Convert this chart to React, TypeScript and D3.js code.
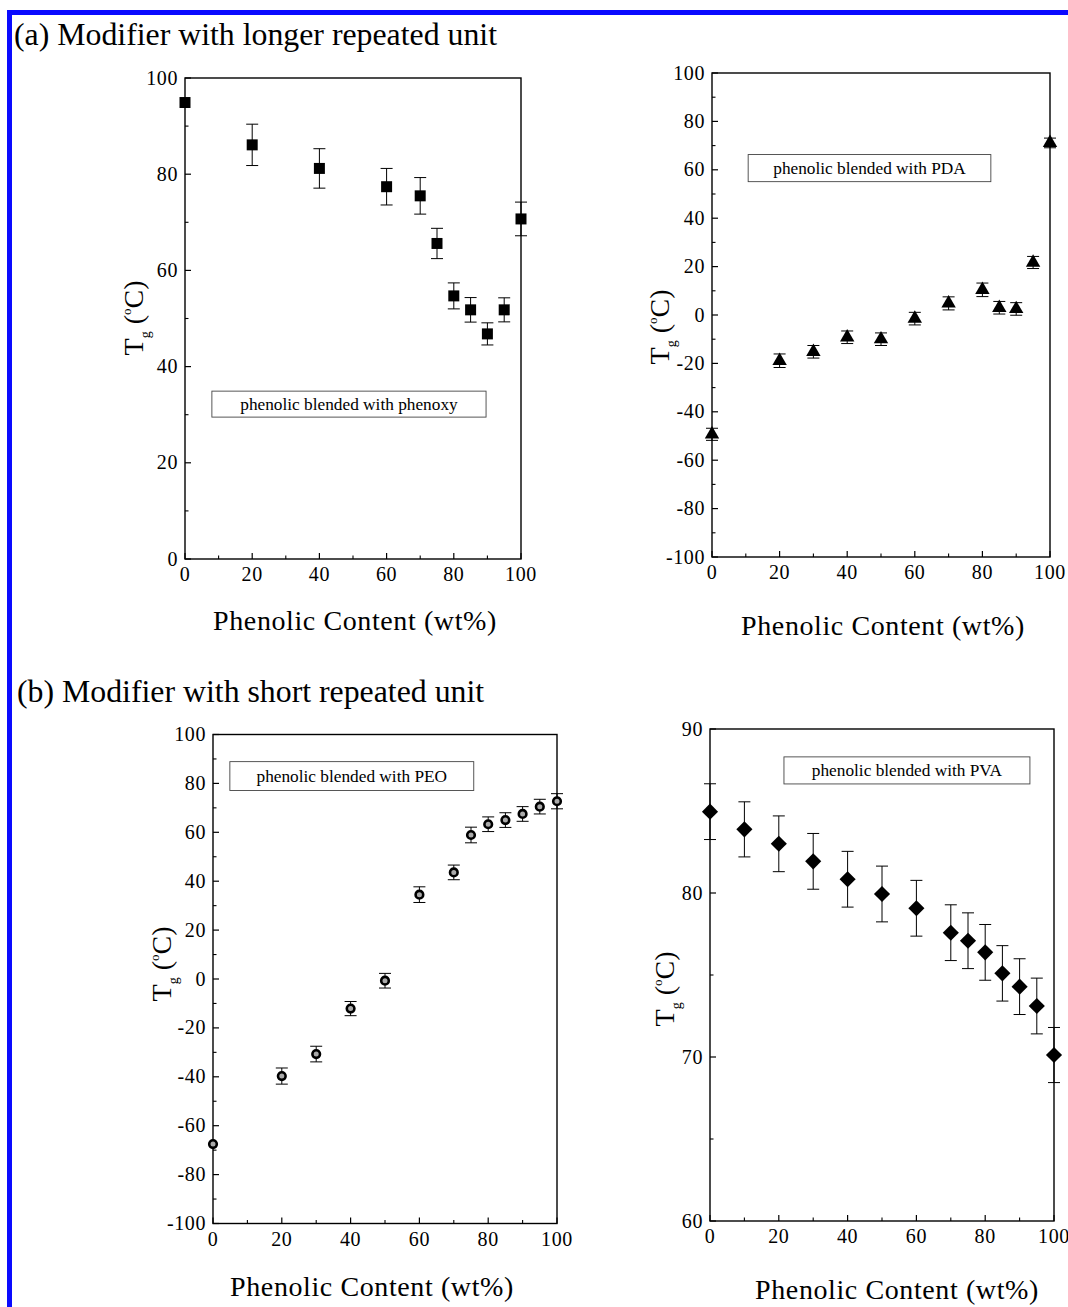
import React from 'react';
import * as d3 from 'd3';

const FONT = '"Liberation Serif", "Times New Roman", Times, serif';

// ---------- data ----------
const phenoxyX = [0, 20, 40, 60, 70, 75, 80, 85, 90, 95, 100];
const phenoxyTg = [94.9, 86.1, 81.2, 77.4, 75.5, 65.6, 54.7, 51.8, 46.8, 51.8, 70.7];
const phenoxyErr = [0, 4.3, 4.1, 3.8, 3.8, 3.15, 2.7, 2.55, 2.3, 2.5, 3.5];

const pdaX = [0, 20, 30, 40, 50, 60, 70, 80, 85, 90, 95, 100];
const pdaTg = [-49.3, -18.9, -15.2, -9.2, -10.0, -1.5, 4.8, 10.4, 3.0, 2.5, 21.7, 71.1];
const pdaErr = [2.5, 2.8, 2.6, 2.6, 2.6, 2.6, 2.7, 2.8, 2.6, 2.6, 2.5, 2.0];

const peoX = [0, 20, 30, 40, 50, 60, 70, 75, 80, 85, 90, 95, 100];
const peoTg = [-67.5, -39.7, -30.7, -12.1, -0.7, 34.5, 43.6, 58.9, 63.3, 65.0, 67.5, 70.5, 72.7];
const peoErr = [0, 3.3, 3.2, 2.9, 3.0, 3.2, 3.0, 3.2, 3.0, 3.0, 3.0, 3.0, 3.1];

const pvaX = [0, 10, 20, 30, 40, 50, 60, 70, 75, 80, 85, 90, 95, 100];
const pvaTg = [84.96, 83.88, 83.0, 81.93, 80.84, 79.94, 79.07, 77.58, 77.09, 76.38, 75.1, 74.29, 73.11, 70.12];
const pvaErr = [1.7, 1.68, 1.7, 1.7, 1.7, 1.7, 1.7, 1.7, 1.7, 1.7, 1.69, 1.7, 1.7, 1.68];

const xTicks = [0, 20, 40, 60, 80, 100];
const yTicksA = [0, 20, 40, 60, 80, 100];
const yTicksB = [-100, -80, -60, -40, -20, 0, 20, 40, 60, 80, 100];
const yTicksPVA = [60, 70, 80, 90];

const labelPhenoxy = 'phenolic blended with phenoxy';
const labelPDA = 'phenolic blended with PDA';
const labelPEO = 'phenolic blended with PEO';
const labelPVA = 'phenolic blended with PVA';
const titleA = '(a) Modifier with longer repeated unit';
const titleB = '(b) Modifier with short repeated unit';
const xTitle = 'Phenolic Content (wt%)';

type Marker = 'square' | 'triangle' | 'circle' | 'diamond';

interface PanelProps {
  frame: { left: number; right: number; top: number; bottom: number };
  yDomain: [number, number];
  yTicks: number[];
  yMinorStep: number;
  xs: number[];
  ys: number[];
  errs: number[];
  marker: Marker;
  label: string;
  box: { x0: number; x1: number; y0: number; y1: number }; // data coords
  yLabelPos: { x: number; y: number };
  xLabelPos: { x: number; y: number };
}

function MarkerShape({ type, x, y }: { type: Marker; x: number; y: number }) {
  if (type === 'square') {
    return <path d={d3.symbol(d3.symbolSquare, 121)() || ''} transform={`translate(${x},${y})`} fill="#000" />;
  }
  if (type === 'triangle') {
    return <path d={d3.symbol(d3.symbolTriangle, 90)() || ''} transform={`translate(${x},${y})`} fill="#000" />;
  }
  if (type === 'diamond') {
    return <path d={d3.symbol(d3.symbolSquare, 130)() || ''} transform={`translate(${x},${y}) rotate(45)`} fill="#000" />;
  }
  return <circle cx={x} cy={y} r={3.8} fill="#aaa" stroke="#000" strokeWidth={2.6} />;
}

function Panel(p: PanelProps) {
  const { frame } = p;
  const x = d3.scaleLinear().domain([0, 100]).range([frame.left, frame.right]);
  const y = d3.scaleLinear().domain(p.yDomain).range([frame.bottom, frame.top]);
  const xMinor = d3.range(10, 100, 20);
  const yMinor = d3.range(p.yDomain[0] + p.yMinorStep, p.yDomain[1], p.yMinorStep).filter(
    (v) => !p.yTicks.some((t) => Math.abs(t - v) < 1e-6)
  );
  const cap = 6;
  return (
    <g>
      <rect
        x={frame.left}
        y={frame.top}
        width={frame.right - frame.left}
        height={frame.bottom - frame.top}
        fill="none"
        stroke="#000"
        strokeWidth={1.4}
      />
      {xTicks.map((t) => (
        <g key={'xt' + t}>
          <line x1={x(t)} x2={x(t)} y1={frame.bottom} y2={frame.bottom - 6} stroke="#000" strokeWidth={1.2} />
          <text x={x(t)} y={frame.bottom + 22} textAnchor="middle" fontSize={20} letterSpacing={0.6} fontFamily={FONT}>
            {t}
          </text>
        </g>
      ))}
      {xMinor.map((t) => (
        <line key={'xm' + t} x1={x(t)} x2={x(t)} y1={frame.bottom} y2={frame.bottom - 3.5} stroke="#000" strokeWidth={1.1} />
      ))}
      {p.yTicks.map((t) => (
        <g key={'yt' + t}>
          <line x1={frame.left} x2={frame.left + 6} y1={y(t)} y2={y(t)} stroke="#000" strokeWidth={1.2} />
          <text x={frame.left - 7} y={y(t) + 6.5} textAnchor="end" fontSize={20} letterSpacing={0.6} fontFamily={FONT}>
            {t}
          </text>
        </g>
      ))}
      {yMinor.map((t) => (
        <line key={'ym' + t} x1={frame.left} x2={frame.left + 3.5} y1={y(t)} y2={y(t)} stroke="#000" strokeWidth={1.1} />
      ))}
      {/* annotation box */}
      <rect
        x={x(p.box.x0)}
        y={y(p.box.y0)}
        width={x(p.box.x1) - x(p.box.x0)}
        height={y(p.box.y1) - y(p.box.y0)}
        fill="#fff"
        stroke="#444"
        strokeWidth={0.9}
      />
      <text
        x={(x(p.box.x0) + x(p.box.x1)) / 2}
        y={(y(p.box.y0) + y(p.box.y1)) / 2 + 5.5}
        textAnchor="middle"
        fontSize={17.3}
        fontFamily={FONT}
      >
        {p.label}
      </text>
      {/* error bars */}
      {p.xs.map((xv, i) => {
        const e = p.errs[i];
        if (!e) return null;
        const cx = x(xv);
        const yt = y(p.ys[i] + e);
        const yb = y(p.ys[i] - e);
        return (
          <g key={'eb' + i} stroke="#000" strokeWidth={1}>
            <line x1={cx} x2={cx} y1={yt} y2={yb} />
            <line x1={cx - cap} x2={cx + cap} y1={yt} y2={yt} />
            <line x1={cx - cap} x2={cx + cap} y1={yb} y2={yb} />
          </g>
        );
      })}
      {p.xs.map((xv, i) => (
        <MarkerShape key={'m' + i} type={p.marker} x={x(xv)} y={y(p.ys[i])} />
      ))}
      {/* y label */}
      <text
        transform={`translate(${p.yLabelPos.x},${p.yLabelPos.y}) rotate(-90)`}
        textAnchor="middle"
        fontFamily={FONT}
        fontSize={28}
      >
        <tspan>T</tspan>
        <tspan fontSize={14} dy={7}>g</tspan>
        <tspan dy={-7}>{'\u00a0('}</tspan>
        <tspan fontSize={13} dy={-12}>o</tspan>
        <tspan dy={12}>C)</tspan>
      </text>
      {/* x label */}
      <text x={p.xLabelPos.x} y={p.xLabelPos.y} textAnchor="middle" fontFamily={FONT} fontSize={28} letterSpacing={0.6}>
        {xTitle}
      </text>
    </g>
  );
}

export default function App() {
  return (
    <svg
      width={1068}
      height={1307}
      viewBox="0 0 1068 1307"
      style={{ position: 'absolute', left: 0, top: 0, background: '#fff' }}
    >
      <rect x={0} y={0} width={1068} height={1307} fill="#fff" />
      {/* blue frame */}
      <line x1={9.5} x2={9.5} y1={10} y2={1307} stroke="#0a0aff" strokeWidth={5} />
      <line x1={7} x2={1068} y1={12.5} y2={12.5} stroke="#0a0aff" strokeWidth={5} />

      <text x={14} y={45} fontFamily={FONT} fontSize={31.8}>
        {titleA}
      </text>
      <text x={17} y={702} fontFamily={FONT} fontSize={31.8}>
        {titleB}
      </text>

      <Panel
        frame={{ left: 185, right: 521, top: 78, bottom: 559 }}
        yDomain={[0, 100]}
        yTicks={yTicksA}
        yMinorStep={10}
        xs={phenoxyX}
        ys={phenoxyTg}
        errs={phenoxyErr}
        marker="square"
        label={labelPhenoxy}
        box={{ x0: 8, x1: 89.6, y0: 34.9, y1: 29.5 }}
        yLabelPos={{ x: 143, y: 318 }}
        xLabelPos={{ x: 355, y: 630 }}
      />
      <Panel
        frame={{ left: 712, right: 1050, top: 73, bottom: 557 }}
        yDomain={[-100, 100]}
        yTicks={yTicksB}
        yMinorStep={10}
        xs={pdaX}
        ys={pdaTg}
        errs={pdaErr}
        marker="triangle"
        label={labelPDA}
        box={{ x0: 10.7, x1: 82.5, y0: 66.3, y1: 55.1 }}
        yLabelPos={{ x: 669, y: 327 }}
        xLabelPos={{ x: 883, y: 635 }}
      />
      <Panel
        frame={{ left: 213, right: 557, top: 734.5, bottom: 1223.5 }}
        yDomain={[-100, 100]}
        yTicks={yTicksB}
        yMinorStep={10}
        xs={peoX}
        ys={peoTg}
        errs={peoErr}
        marker="circle"
        label={labelPEO}
        box={{ x0: 4.9, x1: 75.8, y0: 88.9, y1: 77.1 }}
        yLabelPos={{ x: 171, y: 964 }}
        xLabelPos={{ x: 372, y: 1296 }}
      />
      <Panel
        frame={{ left: 710, right: 1054, top: 729, bottom: 1221 }}
        yDomain={[60, 90]}
        yTicks={yTicksPVA}
        yMinorStep={5}
        xs={pvaX}
        ys={pvaTg}
        errs={pvaErr}
        marker="diamond"
        label={labelPVA}
        box={{ x0: 21.5, x1: 93.0, y0: 88.3, y1: 86.65 }}
        yLabelPos={{ x: 674, y: 989 }}
        xLabelPos={{ x: 897, y: 1299 }}
      />
    </svg>
  );
}
